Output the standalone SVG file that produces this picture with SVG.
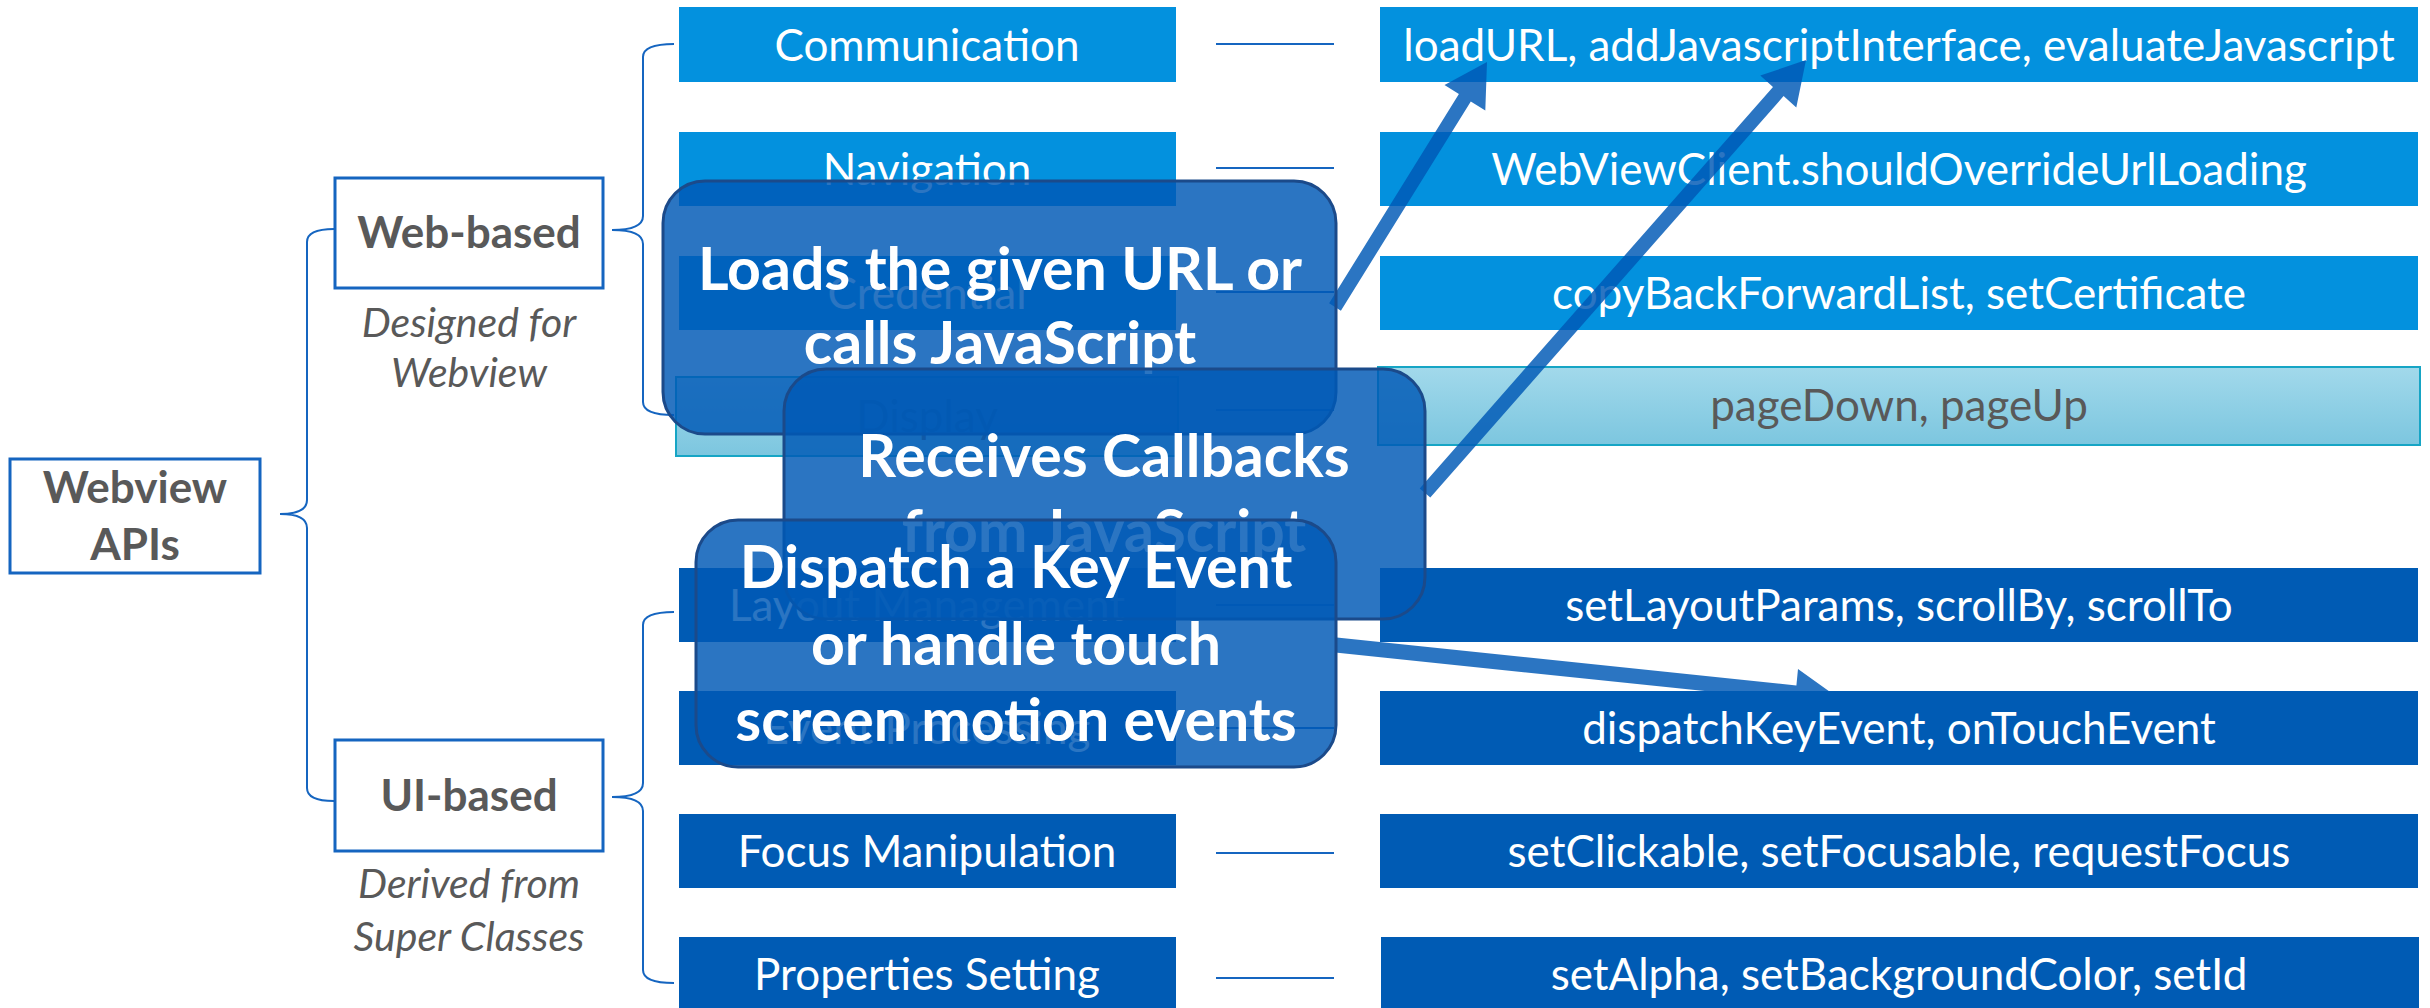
<svg xmlns="http://www.w3.org/2000/svg" width="2430" height="1008" viewBox="0 0 2430 1008">
<defs>
<linearGradient id="dispGrad" x1="0" y1="0" x2="0" y2="1">
<stop offset="0" stop-color="#a2d9eb"/>
<stop offset="1" stop-color="#7cc6df"/>
</linearGradient>
<clipPath id="clipTop"><rect x="0" y="0" width="2430" height="691"/></clipPath>
<style>
text{font-family:Lato,"Open Sans","Liberation Sans",sans-serif;text-anchor:middle}
.bw{fill:#0391de}
.bu{fill:#005bb4}
.bd{fill:url(#dispGrad);stroke:#16a5c5;stroke-width:2}
.t{font-size:44px;fill:#ffffff}
.tg{font-size:44px;fill:#595959}
.cat{fill:#ffffff;stroke:#1565c0;stroke-width:3}
.ct{font-size:44px;font-weight:bold;fill:#595959}
.note{font-size:41px;font-style:italic;fill:#595959}
.ln{stroke:#1565c0;stroke-width:2;fill:none}
.co{fill:#0059b6;fill-opacity:0.83;stroke:#1b4a8a;stroke-width:3}
.cot{font-size:59px;font-weight:bold;fill:#ffffff}
.ar{fill:#0059b6;fill-opacity:0.83}
</style>
</defs>
<rect width="2430" height="1008" fill="#ffffff"/>

<g id="node-webview-apis">
<rect class="cat" x="10" y="459" width="250" height="114"/>
<text class="ct" x="135" y="503">Webview</text>
<text class="ct" x="135" y="560">APIs</text>
</g>
<g id="node-web-based">
<rect class="cat" x="335" y="178" width="268" height="110"/>
<text class="ct" x="469" y="248">Web-based</text>
<text class="note" x="469" y="337">Designed for</text>
<text class="note" x="469" y="387">Webview</text>
</g>
<g id="node-ui-based">
<rect class="cat" x="335" y="740" width="268" height="111"/>
<text class="ct" x="469" y="811">UI-based</text>
<text class="note" x="469" y="898">Derived from</text>
<text class="note" x="469" y="951">Super Classes</text>
</g>

<g id="node-communication"><rect class="bw" x="679" y="7" width="497" height="75"/><text class="t" x="927" y="61">Communication</text></g>
<g id="node-navigation"><rect class="bw" x="679" y="132" width="497" height="74"/><text class="t" x="927" y="185">Navigation</text></g>
<g id="node-credential"><rect class="bw" x="679" y="256" width="497" height="74"/><text class="t" x="927" y="309">Credential</text></g>
<g id="node-display"><rect class="bd" x="676" y="377" width="502" height="79"/><text class="tg" x="927" y="432">Display</text></g>
<g id="node-layout"><rect class="bu" x="679" y="568" width="497" height="74"/><text class="t" x="927" y="621">Layout Management</text></g>
<g id="node-event"><rect class="bu" x="679" y="691" width="497" height="74"/><text class="t" x="927" y="744">Event Processing</text></g>
<g id="node-focus"><rect class="bu" x="679" y="814" width="497" height="74"/><text class="t" x="927" y="867">Focus Manipulation</text></g>
<g id="node-properties"><rect class="bu" x="679" y="937" width="497" height="74"/><text class="t" x="927" y="990">Properties Setting</text></g>

<g id="node-api-communication"><rect class="bw" x="1380" y="7" width="1038" height="75"/><text class="t" x="1899" y="61">loadURL, addJavascriptInterface, evaluateJavascript</text></g>
<g id="node-api-navigation"><rect class="bw" x="1380" y="132" width="1038" height="74"/><text class="t" x="1899" y="185">WebViewClient.shouldOverrideUrlLoading</text></g>
<g id="node-api-credential"><rect class="bw" x="1380" y="256" width="1038" height="74"/><text class="t" x="1899" y="309">copyBackForwardList, setCertificate</text></g>
<g id="node-api-display"><rect class="bd" x="1378" y="367" width="1042" height="78"/><text class="tg" x="1899" y="421">pageDown, pageUp</text></g>
<g id="node-api-layout"><rect class="bu" x="1380" y="568" width="1038" height="74"/><text class="t" x="1899" y="621">setLayoutParams, scrollBy, scrollTo</text></g>
<g id="node-api-event"><rect class="bu" x="1380" y="691" width="1038" height="74"/><text class="t" x="1899" y="744">dispatchKeyEvent, onTouchEvent</text></g>
<g id="node-api-focus"><rect class="bu" x="1380" y="814" width="1038" height="74"/><text class="t" x="1899" y="867">setClickable, setFocusable, requestFocus</text></g>
<g id="node-api-properties"><rect class="bu" x="1381" y="937" width="1038" height="74"/><text class="t" x="1899" y="990">setAlpha, setBackgroundColor, setId</text></g>

<g id="connectors">
<path class="ln" d="M334,229 Q307,229 307,242 L307,500 Q307,514 280,514 Q307,514 307,528 L307,788 Q307,801 334,801"/>
<path class="ln" d="M674,44 Q643,44 643,57 L643,216 Q643,230 612,230 Q643,230 643,244 L643,402 Q643,415 674,415"/>
<path class="ln" d="M674,612 Q643,612 643,625 L643,783 Q643,797 612,797 Q643,797 643,811 L643,970 Q643,983 674,983"/>
<line class="ln" x1="1216" y1="44" x2="1334" y2="44"/>
<line class="ln" x1="1216" y1="168" x2="1334" y2="168"/>
<line class="ln" x1="1216" y1="292" x2="1334" y2="292"/>
<line class="ln" x1="1216" y1="410" x2="1334" y2="410"/>
<line class="ln" x1="1216" y1="605" x2="1334" y2="605"/>
<line class="ln" x1="1216" y1="728" x2="1334" y2="728"/>
<line class="ln" x1="1216" y1="853" x2="1334" y2="853"/>
<line class="ln" x1="1216" y1="978" x2="1334" y2="978"/>
<polygon class="ar" points="1329.1,303.3 1458.9,94 1444.5,85.1 1487,62 1485.3,110.4 1470.8,101.4 1340.9,310.7"/>
<polygon class="ar" points="1419.7,488.4 1773,86.9 1760.3,75.6 1806,60 1796.3,107.4 1783.6,96.1 1430.3,497.6"/>
<polygon class="ar" clip-path="url(#clipTop)" points="1336.8,637.5 1796.4,685.4 1798,669 1837.4,697.2 1793.2,716.8 1794.8,700.4 1335.2,652.5"/>
</g>

<g id="callout-loads">
<rect class="co" x="663" y="181" width="673" height="253" rx="42" ry="42"/>
<text class="cot" x="1000" y="290">Loads the given URL or</text>
<text class="cot" x="1000" y="364">calls JavaScript</text>
</g>
<g id="callout-receives">
<rect class="co" x="784" y="369" width="641" height="250" rx="42" ry="42"/>
<text class="cot" x="1104" y="477">Receives Callbacks</text>
<text class="cot" x="1104" y="552">from JavaScript</text>
</g>
<g id="callout-dispatch">
<rect class="co" x="696" y="520" width="640" height="247" rx="42" ry="42"/>
<text class="cot" x="1016" y="588">Dispatch a Key Event</text>
<text class="cot" x="1016" y="665">or handle touch</text>
<text class="cot" x="1016" y="741">screen motion events</text>
</g>
</svg>
